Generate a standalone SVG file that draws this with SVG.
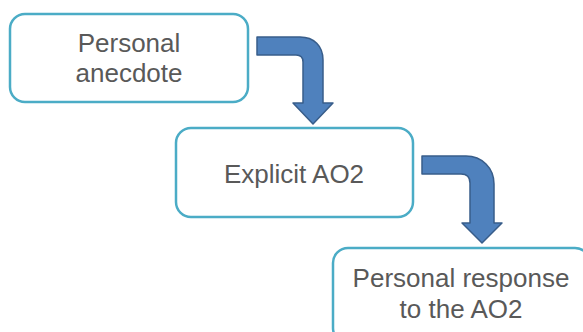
<svg xmlns="http://www.w3.org/2000/svg" width="583" height="332" viewBox="0 0 583 332">
<style>
.box{fill:#fff;stroke:#4bacc6;stroke-width:2.5}
.lbl{font-family:"Liberation Sans",Arial,sans-serif;font-size:26px;fill:#595959;text-anchor:middle}
.arr{fill:#4f81bd;stroke:#385d8a;stroke-width:1.5;stroke-linejoin:round}
</style>
<rect width="583" height="332" fill="#fff"/>
<g id="connectors">
<path class="arr" d="M257,37 L300,37 C314,37 323,46 323,60 L323,103 L333,103 L313,124 L293,103 L303,103 L303,62 Q303,55 296,55 L257,55 Z"/>
<path class="arr" d="M422,156 L466,156 C482,156 494,168 494,184 L494,223 L502,223 L482,243 L462,223 L470,223 L470,183 Q470,174 461,174 L422,174 Z"/>
</g>
<g id="node1">
<rect class="box" x="10" y="14" width="238" height="88" rx="15"/>
<text class="lbl" x="129" y="52">Personal</text>
<text class="lbl" x="129" y="82">anecdote</text>
</g>
<g id="node2">
<rect class="box" x="176" y="128" width="237" height="89" rx="15"/>
<text class="lbl" x="294" y="183">Explicit AO2</text>
</g>
<g id="node3">
<rect class="box" x="333" y="248" width="257" height="95" rx="15"/>
<text class="lbl" x="461" y="287">Personal response</text>
<text class="lbl" x="461" y="318">to the AO2</text>
</g>
</svg>
